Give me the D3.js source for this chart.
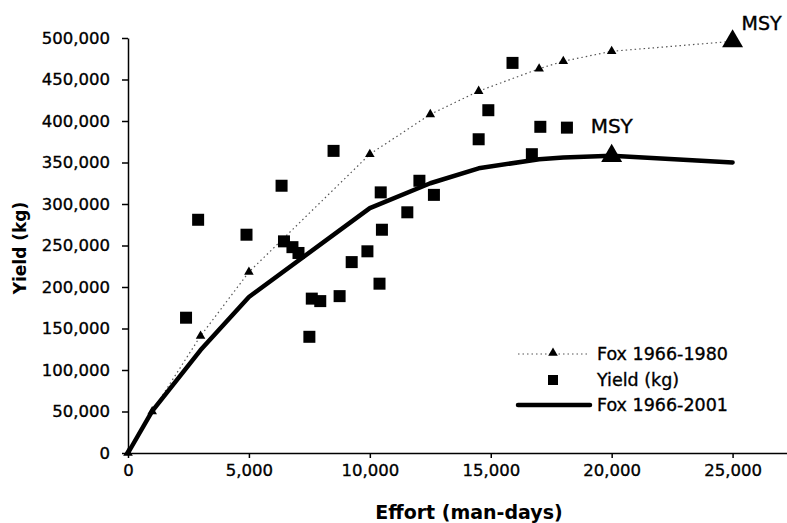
<!DOCTYPE html>
<html>
<head>
  <meta charset="UTF-8">
  <title>Fox yield curves</title>
  <script src="https://d3js.org/d3.v7.min.js"></script>
  <style>
    body { margin: 0; background: #fff; }
    text { font-family: "DejaVu Sans", sans-serif; fill: #000; }
  </style>
</head>
<body>
  <svg width="787" height="523"></svg>

  <script>
    // Fox model 1966-1980 (dotted, small triangles)
    const effort80 = [0, 1000, 3000, 5000, 10000, 12500, 14500, 17000, 18000, 20000, 25000];
    const fox80 = [0, 50000, 141000, 218000, 360000, 408000, 436000, 463000, 472000, 484000, 496000];

    // Fox model 1966-2001 (thick line)
    const effort01 = [0, 1000, 3000, 5000, 10000, 12500, 14500, 17000, 18000, 20000, 25000];
    const fox01 = [0, 50500, 124000, 188000, 295000, 325000, 343000, 354000, 356000, 358000, 350000];

    // observed yield
    const obsEffort = [2400, 2900, 4900, 6350, 8500, 6450, 6800, 7050, 7600, 7950, 7500, 8750, 9250, 9900,
      10400, 10450, 10500, 11550, 12050, 12650, 15900, 14900, 14500, 17050, 18150, 16700];
    const obsYield = [163000, 281000, 263000, 322000, 364000, 255000, 248000, 241000, 186000, 183000, 140000,
      189000, 230000, 243000, 204000, 314000, 269000, 290000, 328000, 311000, 470000, 413000, 378000,
      393000, 392000, 360000];

    // MSY points
    const msy = [
      { effort: 25000, yield: 496000, label: "MSY" },
      { effort: 20000, yield: 358000, label: "MSY" }
    ];

    const yTicks = d3.range(0, 500001, 50000);
    const xTicks = d3.range(0, 25001, 5000);

    const svg = d3.select("svg");

    const x = d3.scaleLinear().domain([0, 27250]).range([128, 787]);
    const y = d3.scaleLinear().domain([0, 500000]).range([453, 38]);

    const tri = d3.symbol().type(d3.symbolTriangle);

    // axes
    const yAxis = svg.append("g")
      .attr("transform", "translate(128,0)")
      .call(d3.axisLeft(y).tickValues(yTicks).tickSize(6).tickPadding(12)
        .tickFormat(d3.format(",")).tickSizeOuter(0));

    const xAxis = svg.append("g")
      .attr("transform", "translate(0,453)")
      .call(d3.axisBottom(x).tickValues(xTicks).tickSize(5).tickPadding(6)
        .tickFormat(d3.format(",")).tickSizeOuter(0));

    svg.selectAll(".tick text")
      .attr("font-size", 16.5)
      .attr("font-family", "DejaVu Sans, sans-serif")
      .attr("stroke", "#000").attr("stroke-width", 0.35);

    svg.selectAll(".domain, .tick line").attr("stroke", "#000").attr("stroke-width", 1.5);

    // axis titles
    svg.append("text")
      .attr("x", 469).attr("y", 519)
      .attr("text-anchor", "middle")
      .attr("font-size", 19).attr("font-weight", "bold")
      .text("Effort (man-days)");

    svg.append("text")
      .attr("transform", "translate(26,248) rotate(-90)")
      .attr("text-anchor", "middle")
      .attr("font-size", 17).attr("font-weight", "bold")
      .text("Yield (kg)");

    // dotted Fox 1966-1980
    const line = d3.line().x(d => x(d[0])).y(d => y(d[1]));
    const pts80 = effort80.map((e, i) => [e, fox80[i]]);
    svg.append("path")
      .datum(pts80)
      .attr("fill", "none")
      .attr("stroke", "#555")
      .attr("stroke-width", 1.2)
      .attr("stroke-dasharray", "1.5,3")
      .attr("d", line);

    svg.append("g")
      .selectAll("path")
      .data(pts80.slice(0, -1))
      .join("path")
      .attr("transform", d => `translate(${x(d[0])},${y(d[1])})`)
      .attr("d", tri.size(40));

    // thick Fox 1966-2001
    const pts01 = effort01.map((e, i) => [e, fox01[i]]);
    svg.append("path")
      .datum(pts01)
      .attr("fill", "none")
      .attr("stroke", "#000")
      .attr("stroke-width", 4.5)
      .attr("stroke-linejoin", "round")
      .attr("stroke-linecap", "round")
      .attr("d", line);

    // observed yield squares
    svg.append("g")
      .selectAll("rect")
      .data(obsEffort.map((e, i) => [e, obsYield[i]]))
      .join("rect")
      .attr("x", d => x(d[0]) - 6)
      .attr("y", d => y(d[1]) - 6)
      .attr("width", 12)
      .attr("height", 12)
      .attr("fill", "#000");

    // MSY markers and labels
    svg.append("g")
      .selectAll("path")
      .data(msy)
      .join("path")
      .attr("transform", d => `translate(${x(d.effort)},${y(d.yield)})`)
      .attr("d", tri.size(190));

    svg.append("text").attr("x", x(25000) + 9).attr("y", 30)
      .attr("font-size", 19).attr("stroke", "#000").attr("stroke-width", 0.4)
      .text(msy[0].label);
    svg.append("text").attr("x", x(20000) - 21).attr("y", 133)
      .attr("font-size", 20).attr("stroke", "#000").attr("stroke-width", 0.4)
      .text(msy[1].label);

    // legend
    const leg = svg.append("g");
    leg.append("line").attr("x1", 518).attr("x2", 590).attr("y1", 354).attr("y2", 354)
      .attr("stroke", "#555").attr("stroke-width", 1.2).attr("stroke-dasharray", "1.5,3");
    leg.append("path").attr("transform", "translate(553,353)").attr("d", tri.size(40));
    leg.append("rect").attr("x", 548).attr("y", 375).attr("width", 10).attr("height", 10);
    leg.append("line").attr("x1", 518).attr("x2", 590).attr("y1", 405).attr("y2", 405)
      .attr("stroke", "#000").attr("stroke-width", 4.5).attr("stroke-linecap", "round");

    leg.selectAll("text")
      .data(["Fox 1966-1980", "Yield (kg)", "Fox 1966-2001"])
      .join("text")
      .attr("x", 597)
      .attr("y", (d, i) => [360, 386, 411][i])
      .attr("font-size", 17.5)
      .attr("stroke", "#000").attr("stroke-width", 0.35)
      .text(d => d);
  </script>
</body>
</html>
